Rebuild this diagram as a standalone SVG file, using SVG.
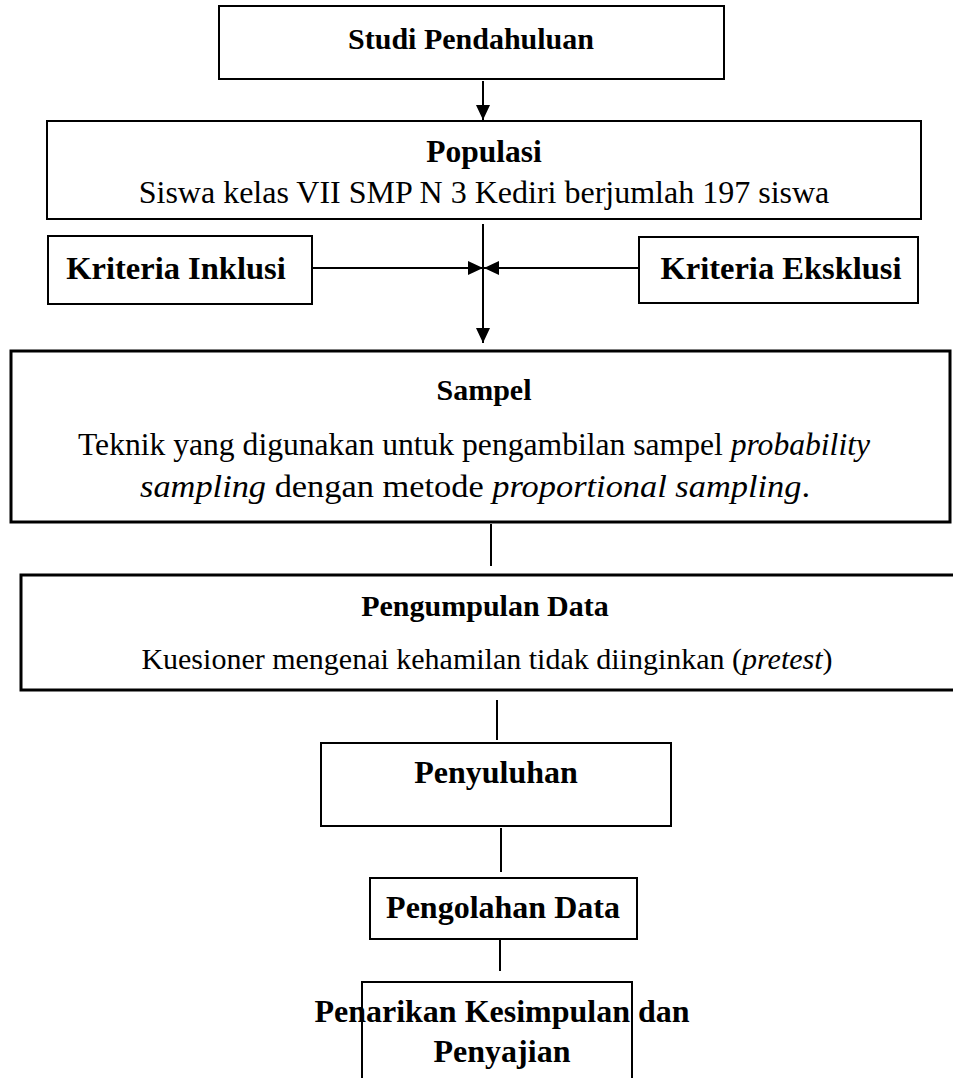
<svg xmlns="http://www.w3.org/2000/svg" width="953" height="1078" viewBox="0 0 953 1078">
<style>
rect{fill:#fff;stroke:#000;stroke-width:2}
text{font-family:"Liberation Serif","Times New Roman",serif;font-size:30px;fill:#000;text-anchor:middle}
.b{font-weight:bold}
.i{font-style:italic}
.c line{stroke:#000;stroke-width:2}
</style>
<defs>
<marker id="ah" markerWidth="15" markerHeight="14" refX="15" refY="7" orient="auto" markerUnits="userSpaceOnUse">
<path d="M0,0 L15,7 L0,14 Z" fill="#000"/>
</marker>
</defs>
<rect width="953" height="1078" style="stroke:none"/>
<g id="studi"><rect x="219" y="6" width="505" height="73"/><text class="b" x="471" y="49">Studi Pendahuluan</text></g>
<g id="populasi"><rect x="47" y="121" width="874" height="98"/><text class="b" x="484" y="162" style="font-size:31.5px">Populasi</text><text x="484" y="203" style="font-size:32px">Siswa kelas VII SMP N 3 Kediri berjumlah 197 siswa</text></g>
<g id="inklusi"><rect x="48" y="236" width="264" height="68"/><text class="b" x="176" y="279" style="font-size:32.5px">Kriteria Inklusi</text></g>
<g id="eksklusi"><rect x="639" y="237" width="279" height="66"/><text class="b" x="781" y="279" style="font-size:32.5px">Kriteria Eksklusi</text></g>
<g id="sampel"><rect x="11" y="351" width="939" height="171" style="stroke-width:3"/><text class="b" x="484" y="400">Sampel</text><text x="474" y="455" style="font-size:31.5px" textLength="792" lengthAdjust="spacingAndGlyphs">Teknik yang digunakan untuk pengambilan sampel <tspan class="i">probability</tspan></text><text x="475" y="497" style="font-size:32px" textLength="670" lengthAdjust="spacingAndGlyphs"><tspan class="i">sampling</tspan> dengan metode <tspan class="i">proportional sampling</tspan>.</text></g>
<g id="pengumpulan"><rect x="21" y="575" width="940" height="115" style="stroke-width:3"/><text class="b" x="485" y="616">Pengumpulan Data</text><text x="487" y="669">Kuesioner mengenai kehamilan tidak diinginkan (<tspan class="i">pretest</tspan>)</text></g>
<g id="penyuluhan"><rect x="321" y="743" width="350" height="83"/><text class="b" x="496" y="783" style="font-size:32px">Penyuluhan</text></g>
<g id="pengolahan"><rect x="370" y="878" width="267" height="61"/><text class="b" x="503" y="918" style="font-size:32px">Pengolahan Data</text></g>
<g id="penarikan"><rect x="362" y="982" width="270" height="110"/><text class="b" x="502" y="1022" style="font-size:32px">Penarikan Kesimpulan dan</text><text class="b" x="502" y="1062" style="font-size:32px">Penyajian</text></g>
<g class="c" id="connectors">
<line x1="483" y1="81" x2="483" y2="120" marker-end="url(#ah)"/>
<line x1="483" y1="224" x2="483" y2="343" marker-end="url(#ah)"/>
<line x1="312" y1="268" x2="483" y2="268" marker-end="url(#ah)"/>
<line x1="639" y1="268" x2="484" y2="268" marker-end="url(#ah)"/>
<line x1="491" y1="524" x2="491" y2="566"/>
<line x1="497" y1="700" x2="497" y2="740"/>
<line x1="501" y1="828" x2="501" y2="872"/>
<line x1="500" y1="939" x2="500" y2="971"/>
</g>
</svg>
